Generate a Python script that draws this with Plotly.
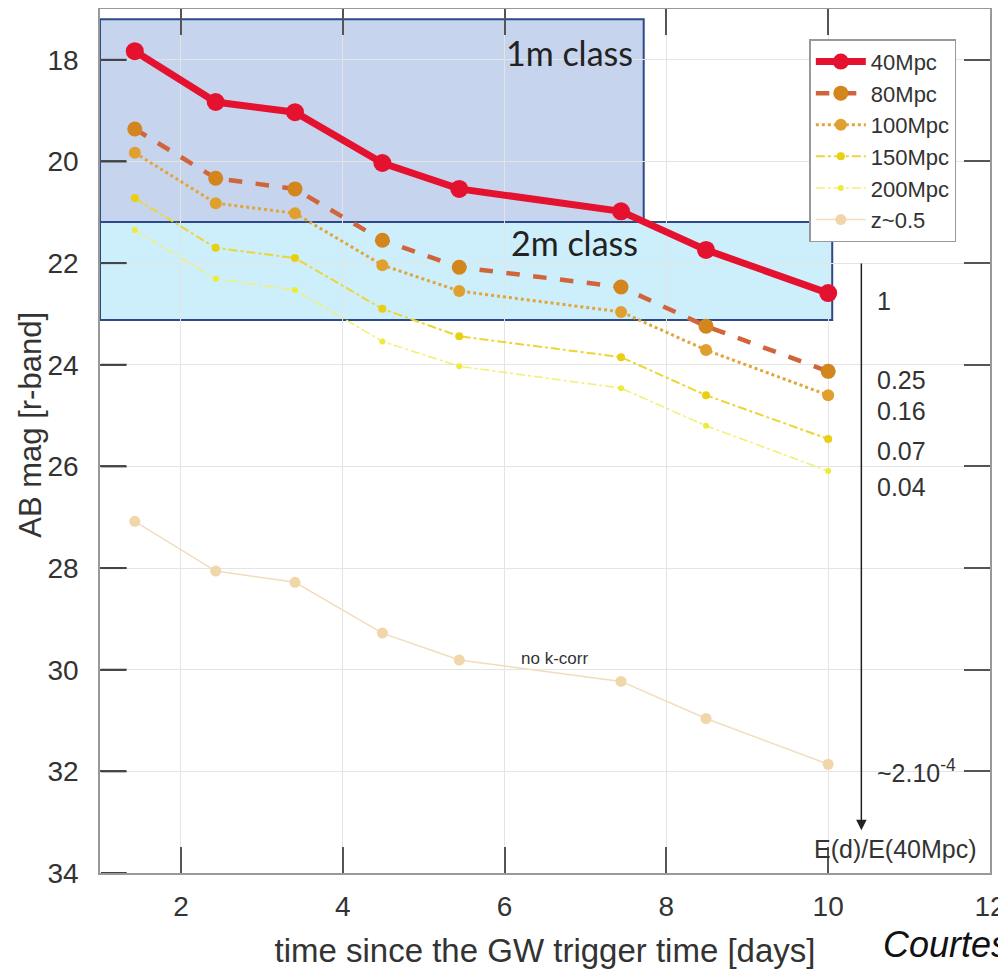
import plotly.graph_objects as go

days = [1.43, 2.43, 3.41, 4.49, 5.44, 7.44, 8.49, 10.0]

mag_40 = [17.83, 18.83, 19.03, 20.03, 20.54, 20.98, 21.74, 22.59]
mag_80 = [19.36, 20.33, 20.54, 21.55, 22.08, 22.47, 23.24, 24.13]
mag_100 = [19.83, 20.82, 21.02, 22.04, 22.55, 22.96, 23.71, 24.60]
mag_150 = [20.72, 21.70, 21.90, 22.90, 23.44, 23.85, 24.60, 25.46]
mag_200 = [21.35, 22.31, 22.53, 23.54, 24.03, 24.46, 25.20, 26.09]
mag_z05 = [27.08, 28.06, 28.28, 29.28, 29.81, 30.23, 30.96, 31.86]

mag_ticks = [18, 20, 22, 24, 26, 28, 30, 32, 34]
day_ticks = [2, 4, 6, 8, 10, 12]

series = [
    ("40Mpc", mag_40, "#e4122f", "#e4122f", 7, "solid", 18),
    ("80Mpc", mag_80, "#d0643a", "#d4861e", 4.5, "dash", 15),
    ("100Mpc", mag_100, "#e2a53a", "#e0a030", 3, "dot", 12),
    ("150Mpc", mag_150, "#ecd634", "#e8cf12", 2, "dashdot", 8),
    ("200Mpc", mag_200, "#f2f070", "#eeea3a", 1.5, "dashdot", 6),
    ("z~0.5", mag_z05, "#f2dcbc", "#f0d6a8", 1.5, "solid", 11),
]

# energy ratio labels next to the arrow
ratio_labels = ["1", "0.25", "0.16", "0.07", "0.04", "~2.10<sup>-4</sup>"]
ratio_y = [22.75, 24.3, 24.9, 25.7, 26.4, 32.0]

fig = go.Figure()

# telescope class boxes
fig.add_shape(type="rect", x0=1, x1=7.72, y0=17.2, y1=21.19,
              fillcolor="#c6d4ee", line=dict(color="#2c4a8a", width=2), layer="below")
fig.add_shape(type="rect", x0=1, x1=10.05, y0=21.19, y1=23.12,
              fillcolor="#cdeefb", line=dict(color="#2c4a8a", width=2), layer="below")

# left inner tick marks, drawn from the tick list
for v in mag_ticks:
    fig.add_shape(type="line", xref="paper", yref="y", x0=0.001, x1=0.03, y0=v, y1=v,
                  line=dict(color="#444", width=2), layer="above")

for name, mags, lc, mc, lw, dash, ms in series:
    fig.add_trace(go.Scatter(
        x=days, y=mags, name=name, mode="lines+markers",
        line=dict(color=lc, width=lw, dash=dash),
        marker=dict(color=mc, size=ms),
    ))

fig.add_annotation(x=6.80, y=17.85, text="1m class", showarrow=False,
                   font=dict(size=34, color="#222", family="Lato"))
fig.add_annotation(x=6.86, y=21.6, text="2m class", showarrow=False,
                   font=dict(size=34, color="#222", family="Lato"))
fig.add_annotation(x=6.62, y=29.78, text="no k-corr", showarrow=False,
                   font=dict(size=17, color="#333"))

# arrow
fig.add_annotation(x=10.41, y=33.16, ax=10.41, ay=21.98, axref="x", ayref="y",
                   xref="x", yref="y", text="", showarrow=True,
                   arrowhead=2, arrowsize=1.4, arrowwidth=1.5, arrowcolor="#222")

for lab, yy in zip(ratio_labels, ratio_y):
    fig.add_annotation(x=10.58, y=yy, text=lab, showarrow=False, xanchor="left",
                       font=dict(size=25, color="#333"))

fig.add_annotation(x=11.86, y=33.52, text="E(d)/E(40Mpc)", showarrow=False,
                   xanchor="right", font=dict(size=25, color="#333"))

fig.add_annotation(x=-0.079, y=0.5185, xref="paper", yref="paper", text="AB mag [r-band]",
                   textangle=-90, showarrow=False, xanchor="center", yanchor="middle",
                   font=dict(size=31, color="#333"))

fig.add_annotation(x=0.878, y=-0.083, xref="paper", yref="paper", text="<i>Courtesy</i>",
                   showarrow=False, xanchor="left", yanchor="middle",
                   font=dict(size=36, color="#111"))

fig.update_xaxes(range=[1, 12], tickvals=day_ticks,
                 ticks="inside", ticklen=26, tickcolor="#555", tickwidth=1.5,
                 showgrid=True, gridcolor="#e4e4e4", gridwidth=1,
                 showline=True, linecolor="#999", linewidth=1.5, mirror="ticks",
                 zeroline=False, automargin=False, ticklabelstandoff=8,
                 tickfont=dict(size=28, color="#333"),
                 title=dict(text="time since the GW trigger time [days]",
                            font=dict(size=33, color="#333"), standoff=18))
fig.update_yaxes(range=[34, 17], tickvals=mag_ticks,
                 ticktext=[f"{v}\u2002" for v in mag_ticks],
                 ticks="inside", ticklen=26, tickcolor="#555", tickwidth=1.5,
                 showgrid=True, gridcolor="#e4e4e4", gridwidth=1,
                 showline=True, linecolor="#999", linewidth=1.5, mirror="ticks",
                 zeroline=False, automargin=False,
                 tickfont=dict(size=28, color="#333"))

# page body adds 8px, so margins are offset to keep the plot box in place
fig.update_layout(
    width=1006, height=976,
    margin=dict(l=92, r=24, t=1, b=111),
    plot_bgcolor="white", paper_bgcolor="white",
    font=dict(family="Liberation Sans, Arial, sans-serif"),
    legend=dict(x=0.797, y=0.965, xanchor="left", yanchor="top",
                bgcolor="white", bordercolor="#999", borderwidth=1.5,
                itemwidth=50,
                font=dict(size=22, color="#333"), tracegroupgap=0),
    showlegend=True,
)

fig.write_html("out.html")
